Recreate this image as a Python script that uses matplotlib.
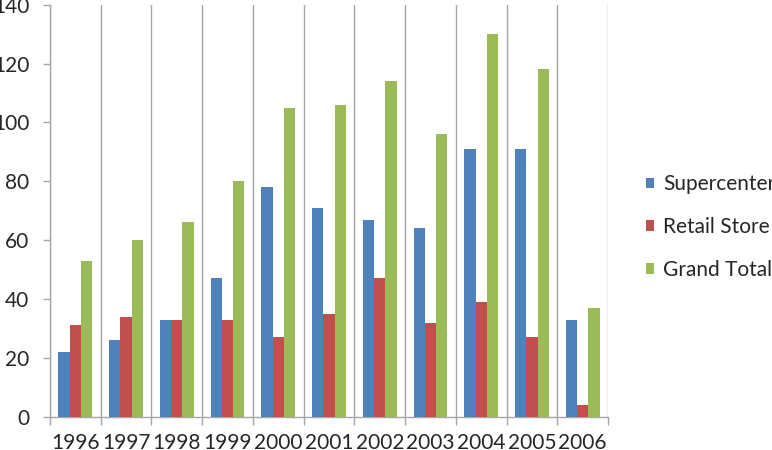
import matplotlib.pyplot as plt
from matplotlib.patches import Patch
import numpy as np

# chart data
years = ["1996", "1997", "1998", "1999", "2000", "2001", "2002", "2003", "2004", "2005", "2006"]
supercenter = [22, 26, 33, 47, 78, 71, 67, 64, 91, 91, 33]
retail_store = [31, 34, 33, 33, 27, 35, 47, 32, 39, 27, 4]
grand_total = [53, 60, 66, 80, 105, 106, 114, 96, 130, 118, 37]
yticks = [0, 20, 40, 60, 80, 100, 120, 140]

series = [
    ("Supercenter", supercenter, "#4F81BD"),
    ("Retail Store", retail_store, "#C0504D"),
    ("Grand Total", grand_total, "#9BBB59"),
]

plt.rcParams["font.family"] = ["Lato", "DejaVu Sans"]
text_color = "#262626"
line_color = "#a6a6a6"

fig = plt.figure(figsize=(7.72, 4.5), dpi=100)
ax = fig.add_axes([0.0648, 0.0740, 0.7228, 0.9156])

x = np.arange(len(years))
w = 1 / 4.5
for i, (name, vals, color) in enumerate(series):
    ax.bar(x + (i - 1) * w, vals, width=w, color=color, zorder=3)

ax.set_xlim(-0.5, len(years) - 0.5)
ax.set_ylim(0, 140)

# category labels at centres, gridlines/ticks at boundaries
ax.set_xticks(x)
ax.set_xticklabels(years)
ax.set_xticks(np.arange(-0.5, len(years)), minor=True)
ax.tick_params(axis="x", which="major", length=0, pad=12, labelsize=15, labelcolor=text_color)
ax.tick_params(axis="x", which="minor", length=6, width=1, color=line_color, direction="out")
ax.grid(True, axis="x", which="minor", color=line_color, linewidth=1, zorder=0)

ax.set_yticks(yticks)
ax.tick_params(axis="y", length=5, width=1, color=line_color, pad=10, labelsize=15, labelcolor=text_color)

for side in ["top", "right"]:
    ax.spines[side].set_visible(False)
for side in ["left", "bottom"]:
    ax.spines[side].set_color(line_color)
    ax.spines[side].set_linewidth(1)

handles = [Patch(facecolor=c, edgecolor="none") for _, _, c in series]
fig.legend(handles, [s[0] for s in series], loc="center left",
           bbox_to_anchor=(0.8368, 0.4956), frameon=False, fontsize=15,
           handlelength=0.4, handleheight=0.4, handletextpad=0.42,
           labelspacing=1.09, borderpad=0, borderaxespad=0, labelcolor=text_color)

fig.savefig("out.png", dpi=100)
